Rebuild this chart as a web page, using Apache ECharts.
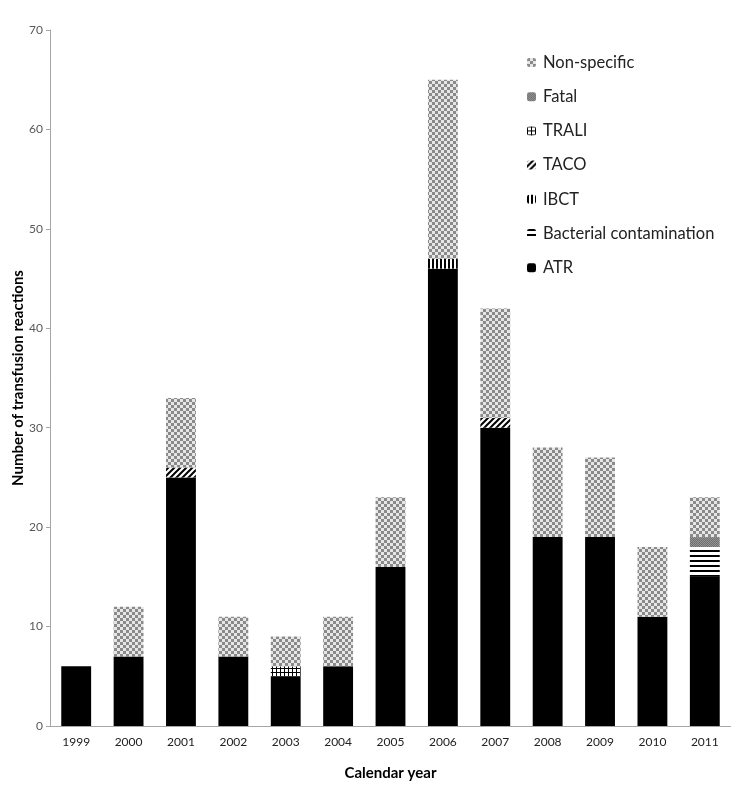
<!DOCTYPE html>
<html>
<head>
<meta charset="utf-8">
<title>Transfusion reactions by year</title>
<script src="https://cdn.jsdelivr.net/npm/echarts@6/dist/echarts.min.js"></script>
<style>
  html, body { margin: 0; padding: 0; background: #fff; overflow: hidden; }
  #chart { width: 731px; height: 787px; }
</style>
</head>
<body>
<div id="chart"></div>
<script>
  // data
  var years = ['1999','2000','2001','2002','2003','2004','2005','2006','2007','2008','2009','2010','2011'];
  var atr         = [6, 7, 25, 7, 5, 6, 16, 46, 30, 19, 19, 11, 15];
  var bacterial   = [0, 0, 0, 0, 0, 0, 0, 0, 0, 0, 0, 0, 3];
  var ibct        = [0, 0, 0, 0, 0, 0, 0, 1, 0, 0, 0, 0, 0];
  var taco        = [0, 0, 1, 0, 0, 0, 0, 0, 1, 0, 0, 0, 0];
  var trali       = [0, 0, 0, 0, 1, 0, 0, 0, 0, 0, 0, 0, 0];
  var fatal       = [0, 0, 0, 0, 0, 0, 0, 0, 0, 0, 0, 0, 1];
  var nonSpecific = [0, 5, 7, 4, 3, 5, 7, 18, 11, 9, 8, 7, 4];
  var yTicks = [0, 10, 20, 30, 40, 50, 60, 70];

  // little canvas tiles for the hatch fills
  function tile(size, draw) {
    var c = document.createElement('canvas')
    c.width = size; c.height = size
    var ctx = c.getContext('2d')
    ctx.fillStyle = '#fff'
    ctx.fillRect(0, 0, size, size)
    draw(ctx)
    return { image: c, repeat: 'repeat' }
  }
  function checker(cell, a, b) {
    return tile(cell * 2, function (ctx) {
      ctx.fillStyle = a
      ctx.fillRect(0, 0, cell * 2, cell * 2)
      ctx.fillStyle = b
      ctx.fillRect(0, 0, cell, cell)
      ctx.fillRect(cell, cell, cell, cell)
    })
  }
  var fills = {
    nonSpecific: checker(3, '#e6e6e6', '#8a8a8a'),
    fatal: checker(1, '#6e6e6e', '#959595'),
    trali: tile(4, function (ctx) {
      ctx.fillStyle = '#000'
      ctx.fillRect(0, 0, 4, 1)
      ctx.fillRect(0, 0, 1, 4)
    }),
    taco: tile(6, function (ctx) {
      ctx.strokeStyle = '#000'
      ctx.lineWidth = 2
      ctx.beginPath()
      ctx.moveTo(-1, 7); ctx.lineTo(7, -1)
      ctx.moveTo(-1, 1); ctx.lineTo(1, -1)
      ctx.moveTo(5, 7); ctx.lineTo(7, 5)
      ctx.stroke()
    }),
    ibct: tile(4, function (ctx) {
      ctx.fillStyle = '#000'
      ctx.fillRect(0, 0, 2, 4)
    }),
    bacterial: tile(5, function (ctx) {
      ctx.fillStyle = '#000'
      ctx.fillRect(0, 0, 5, 2)
    }),
    atr: '#000'
  }

  function bar(name, data, fill) {
    return {
      name: name,
      type: 'bar',
      stack: 'total',
      barCategoryGap: '43%',
      data: data,
      itemStyle: { color: fill },
      emphasis: { disabled: true }
    }
  }

  var chart = echarts.init(document.getElementById('chart'))
  chart.setOption({
    animation: false,
    textStyle: { fontFamily: 'Lato' },
    grid: { left: 50, top: 30, right: 0, bottom: 61, outerBoundsMode: 'none' },
    legend: {
      orient: 'vertical',
      left: 522,
      top: 49,
      itemWidth: 9,
      itemHeight: 9,
      itemGap: 17.2,
      textStyle: { fontSize: 16.5, color: '#222', fontFamily: 'Lato', padding: [0, 0, 0, 2] },
      data: ['Non-specific', 'Fatal', 'TRALI', 'TACO', 'IBCT', 'Bacterial contamination', 'ATR']
    },
    xAxis: {
      type: 'category',
      data: years,
      name: 'Calendar year',
      nameLocation: 'middle',
      nameGap: 40,
      nameTextStyle: { fontSize: 15, fontWeight: 'bold', color: '#000' },
      axisLine: { lineStyle: { color: '#a6a6a6' } },
      axisTick: { show: false },
      axisLabel: { fontSize: 12, color: '#222', margin: 10 }
    },
    yAxis: {
      type: 'value',
      min: yTicks[0],
      max: yTicks[yTicks.length - 1],
      interval: 10,
      name: 'Number of transfusion reactions',
      nameLocation: 'middle',
      nameGap: 24,
      nameMoveOverlap: false,
      nameTextStyle: { fontSize: 15, fontWeight: 'bold', color: '#000' },
      axisLine: { show: true, lineStyle: { color: '#a6a6a6' } },
      axisTick: { show: true, length: 4, lineStyle: { color: '#a6a6a6' } },
      splitLine: { show: false },
      axisLabel: { fontSize: 12, color: '#595959', margin: 7 }
    },
    series: [
      bar('ATR', atr, fills.atr),
      bar('Bacterial contamination', bacterial, fills.bacterial),
      bar('IBCT', ibct, fills.ibct),
      bar('TACO', taco, fills.taco),
      bar('TRALI', trali, fills.trali),
      bar('Fatal', fatal, fills.fatal),
      bar('Non-specific', nonSpecific, fills.nonSpecific)
    ]
  })
</script>
</body>
</html>
